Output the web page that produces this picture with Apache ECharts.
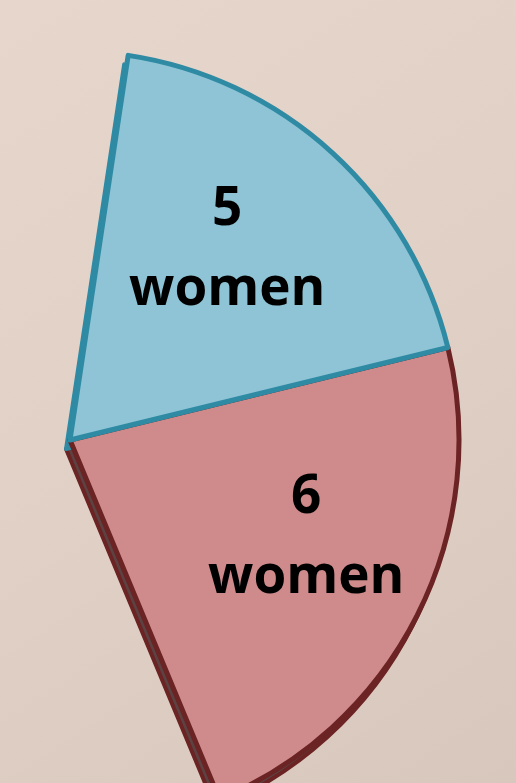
<!DOCTYPE html>
<html>
<head>
<meta charset="utf-8">
<script src="https://cdn.jsdelivr.net/npm/echarts@6/dist/echarts.min.js"></script>
<style>
html,body{margin:0;padding:0;width:516px;height:783px;overflow:hidden;}
#chart{width:516px;height:783px;}
</style>
</head>
<body>
<div id="chart"></div>
<script>
// Data (drawn counter-clockwise so the blue slice is painted last)
const categories = ['6 women', '5 women'];
const values = [6, 5];
const labelUnits = ['women', 'women'];
const fillColors = ['#cf8b8b', '#8ec4d5'];
const borderColors = ['#6b2323', '#2f8aa4'];
const sideColors = ['#5c4242', '#2f8aa4'];
const labelDx = [60, 24];
const labelDy = [9, -44];

const startAngle = -67.4;
const sweep = 148.8;

const chart = echarts.init(document.getElementById('chart'), null, {renderer: 'canvas'});

const option = {
  backgroundColor: {
    type: 'linear', x: 0, y: 0, x2: 1, y2: 1,
    colorStops: [
      {offset: 0, color: '#e7d6cc'},
      {offset: 0.5, color: '#e1d0c6'},
      {offset: 1, color: '#d8c7bd'}
    ]
  },
  animation: false,
  series: [
    {
      type: 'pie',
      silent: true,
      z: 1,
      center: [66, 449],
      radius: [0, 389],
      startAngle: startAngle,
      endAngle: startAngle + sweep,
      clockwise: false,
      label: {show: false},
      labelLine: {show: false},
      data: categories.map((c, i) => ({
        name: c, value: values[i],
        itemStyle: {color: sideColors[i], borderColor: borderColors[i], borderWidth: 4}
      }))
    },
    {
      type: 'pie',
      silent: true,
      z: 2,
      center: [70, 440],
      radius: [0, 389],
      startAngle: startAngle,
      endAngle: startAngle + sweep,
      clockwise: false,
      label: {
        show: true,
        position: 'inside',
        formatter: p => p.value + '\n' + labelUnits[p.dataIndex],
        fontFamily: '"Open Sans", sans-serif',
        fontWeight: 'bold',
        fontSize: 53,
        lineHeight: 80,
        color: '#000',
        align: 'center'
      },
      labelLayout: p => ({dx: labelDx[p.dataIndex], dy: labelDy[p.dataIndex]}),
      labelLine: {show: false},
      data: categories.map((c, i) => ({
        name: c, value: values[i],
        itemStyle: {color: fillColors[i], borderColor: borderColors[i], borderWidth: 5}
      }))
    }
  ]
};
chart.setOption(option);
</script>
</body>
</html>
